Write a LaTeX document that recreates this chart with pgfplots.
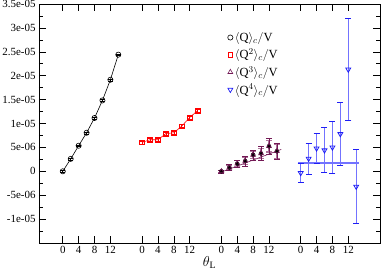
\documentclass[border=0pt]{standalone}
\usepackage{fontspec}
\setmainfont{Liberation Serif}
\usepackage{pgfplots}
\pgfplotsset{compat=1.18}
\definecolor{mpurple}{RGB}{115,25,85}
\definecolor{lpurple}{RGB}{175,115,155}
\definecolor{mblue}{RGB}{30,30,245}
\definecolor{lblue}{RGB}{115,115,255}
\newcommand\tf{\fontsize{11}{13}\selectfont}
\begin{document}
\begin{tikzpicture}
\begin{axis}[
  at={(0,0)}, anchor=south west,
  scale only axis, width=341bp, height=239bp,
  xmin=-6, xmax=80, ymin=-1.5e-5, ymax=3.5e-5,
  xtick={0,4,8,12,20,24,28,32,40,44,48,52,60,64,68,72},
  xticklabels={0,4,8,12,0,4,8,12,0,4,8,12,0,4,8,12},
  ytick={-1e-5,-5e-6,0,5e-6,1e-5,1.5e-5,2e-5,2.5e-5,3e-5,3.5e-5},
  yticklabels={-1e-05,-5e-06,0,5e-06,1e-05,1.5e-05,2e-05,2.5e-05,3e-05,3.5e-05},
  minor ytick={-1.25e-5,-7.5e-6,-2.5e-6,2.5e-6,7.5e-6,1.25e-5,1.75e-5,2.25e-5,2.75e-5,3.25e-5},
  scaled y ticks=false,
  tick align=inside,
  major tick length=7bp, minor tick length=4bp,
  tick style={black, line width=0.6pt},
  axis line style={line width=0.8pt},
  tick label style={font=\tf},
  xlabel={$\theta_{\mathrm{L}}$},
  xlabel style={font=\fontsize{14}{16}\selectfont, at={(axis description cs:0.5,0)}, anchor=north, yshift=-10bp},
  legend style={draw=none, fill=none, at={(axis description cs:0.55,0.895)}, anchor=north west,
    font=\fontsize{12.5}{15}\selectfont, row sep=2bp, inner sep=1bp},
  legend cell align=left,
  legend image code/.code={\draw[#1] plot[only marks] coordinates {(0.12cm,0cm)};},
  error bars/error bar style={line width=0.6pt},
]
\addlegendimage{black, mark=o, mark size=2.6bp, line width=0.6pt}
\addlegendentry{$\langle\mathrm{Q}\rangle_c/\mathrm{V}$}
\addlegendimage{red, mark=square, mark size=2.3bp, line width=0.6pt}
\addlegendentry{$\langle\mathrm{Q}^2\rangle_c/\mathrm{V}$}
\addlegendimage{mpurple, mark=triangle, mark size=2.8bp, line width=0.6pt}
\addlegendentry{$\langle\mathrm{Q}^3\rangle_c/\mathrm{V}$}
\addlegendimage{mblue, mark=triangle, mark options={rotate=180}, mark size=2.8bp, line width=0.7pt}
\addlegendentry{$\langle\mathrm{Q}^4\rangle_c/\mathrm{V}$}

% group 1
\addplot[forget plot, black, line width=0.6pt, mark=o, mark size=2.6bp,
  error bars/.cd, y dir=both, y explicit, error mark options={rotate=90, mark size=2.5bp}]
  coordinates {
  (0,0) +- (0,2e-7)
  (2,2.6e-6) +- (0,2e-7)
  (4,5.35e-6) +- (0,2e-7)
  (6,8.06e-6) +- (0,2e-7)
  (8,1.115e-5) +- (0,2e-7)
  (10,1.483e-5) +- (0,2e-7)
  (12,1.915e-5) +- (0,2e-7)
  (14,2.44e-5) +- (0,2e-7)
  };
% group 2
\addplot[forget plot, red, line width=0.6pt, mark=square, mark size=2.3bp,
  error bars/.cd, y dir=both, y explicit, error mark options={red, rotate=90, mark size=2.5bp}]
  coordinates {
  (20,6.05e-6) +- (0,3e-7)
  (22,6.6e-6) +- (0,3e-7)
  (24,6.6e-6) +- (0,3e-7)
  (26,7.9e-6) +- (0,3e-7)
  (28,8.05e-6) +- (0,3e-7)
  (30,9.45e-6) +- (0,3e-7)
  (32,1.125e-5) +- (0,3e-7)
  (34,1.27e-5) +- (0,3e-7)
  };
% group 3 fit line
\addplot[forget plot, mpurple, line width=0.6pt] coordinates {(39.6,-0.27e-6) (55.1,4.58e-6)};
% group 3 light error bars
\addplot[forget plot, only marks, draw=none, mark=none,
  error bars/.cd, y dir=both, y explicit, error bar style={lpurple, line width=1.4pt}, error mark options={lpurple, rotate=90, mark size=3bp, line width=1.2pt}]
  coordinates {
  (40,0.0) +- (0,2.5e-7)
  (42,0.8e-6) +- (0,5e-7)
  (44,1.6e-6) +- (0,6e-7)
  (46,2.15e-6) +- (0,7e-7)
  (48,3.45e-6) +- (0,7e-7)
  (50,3.75e-6) +- (0,1e-6)
  (52,5.25e-6) +- (0,1.2e-6)
  (54,4.2e-6) +- (0,1.5e-6)
  };
% group 3
\addplot[forget plot, only marks, mpurple, line width=0.6pt, mark=triangle, mark size=2.8bp,
  error bars/.cd, y dir=both, y explicit, error bar style={mpurple}, error mark options={mpurple, rotate=90, mark size=3bp}]
  coordinates {
  (40,0.0) +- (0,3e-7)
  (42,0.8e-6) +- (0,6.7e-7)
  (44,1.6e-6) +- (0,7.7e-7)
  (46,2.15e-6) +- (0,1.04e-6)
  (48,3.45e-6) +- (0,1.04e-6)
  (50,3.75e-6) +- (0,1.4e-6)
  (52,5.25e-6) +- (0,1.77e-6)
  (54,4.2e-6) +- (0,1.73e-6)
  };
% group 4 fit line
\addplot[forget plot, lblue, line width=1.4pt] coordinates {(59.3,1.7e-6) (74.6,1.7e-6)};
% group 4
\addplot[forget plot, only marks, mblue, line width=0.8pt, mark=triangle, mark options={rotate=180}, mark size=2.8bp,
  error bars/.cd, y dir=both, y explicit, error bar style={lblue, line width=1.1pt}, error mark options={mblue, rotate=90, mark size=3bp, line width=0.8pt}]
  coordinates {
  (60,-0.35e-6) +- (0,2.0e-6)
  (62,2.65e-6) +- (0,3.25e-6)
  (64,4.8e-6) +- (0,3.1e-6)
  (66,4.4e-6) +- (0,4.7e-6)
  (68,5.0e-6) +- (0,5.4e-6)
  (70,7.8e-6) +- (0,6.6e-6)
  (72,2.13e-5) +- (0,1.07e-5)
  (74,-3.2e-6) +- (0,7.8e-6)
  };
\end{axis}
\pgfresetboundingbox
\path[use as bounding box] (-39bp,-30bp) rectangle (343bp,243bp);
\end{tikzpicture}
\end{document}
